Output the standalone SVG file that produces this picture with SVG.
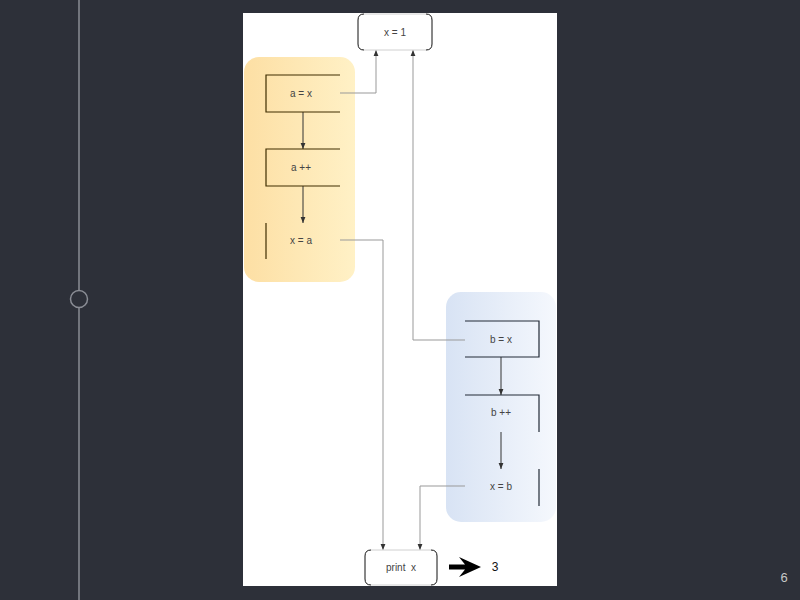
<svg xmlns="http://www.w3.org/2000/svg" width="800" height="600" viewBox="0 0 800 600">
<defs>
<linearGradient id="gOrange" x1="0" y1="0" x2="1" y2="0">
<stop offset="0" stop-color="#fddfa4"/>
<stop offset="1" stop-color="#fff1c6"/>
</linearGradient>
<linearGradient id="gBlue" x1="0" y1="0" x2="1" y2="0">
<stop offset="0" stop-color="#d8e3f4"/>
<stop offset="1" stop-color="#f5f8fd"/>
</linearGradient>
<marker id="ah" viewBox="0 0 10 10" refX="10" refY="5" markerWidth="6" markerHeight="6" orient="auto" markerUnits="userSpaceOnUse">
<path d="M0,1 L10,5 L0,9 Z" fill="#333"/>
</marker>
</defs>
<style>
text{font-family:"Liberation Sans",Arial,sans-serif;font-size:10px;fill:#444;text-anchor:middle;dominant-baseline:central}
.edge{fill:none;stroke:#999;stroke-width:1}
.inner{fill:none;stroke:#333;stroke-width:1}
.ob{fill:none;stroke:#3f2d00;stroke-width:1.2}
.bb{fill:none;stroke:#222a36;stroke-width:1.2}
.term{fill:none;stroke:#111;stroke-width:1}
.termfaint{fill:none;stroke:#d0d0d0;stroke-width:1}
</style>
<rect x="0" y="0" width="800" height="600" fill="#2d3039"/>
<line x1="79" y1="0" x2="79" y2="600" stroke="#8a8d95" stroke-width="1.5"/>
<circle cx="79" cy="299" r="8.5" fill="#2d3039" stroke="#8a8d95" stroke-width="1.5"/>
<text x="784" y="577" style="fill:#c8c8c8;font-size:13px">6</text>
<rect x="243" y="13" width="314" height="573" fill="#ffffff"/>

<g id="group-a">
<rect x="244" y="57" width="111" height="225" rx="15" fill="url(#gOrange)"/>
</g>
<g id="group-b">
<rect x="446" y="292" width="110" height="230" rx="15" fill="url(#gBlue)"/>
</g>

<g id="connectors">
<path class="edge" d="M340,93 H376 V50" marker-end="url(#ah)"/>
<path class="edge" d="M340,240 H383 V550" marker-end="url(#ah)"/>
<path class="edge" d="M465,340 H413 V50" marker-end="url(#ah)"/>
<path class="edge" d="M465,486 H420 V550" marker-end="url(#ah)"/>
<path class="inner" d="M303,112 V149" marker-end="url(#ah)"/>
<path class="inner" d="M303,186 V223" marker-end="url(#ah)"/>
<path class="inner" d="M501,357 V395" marker-end="url(#ah)"/>
<path class="inner" d="M501,432 V469" marker-end="url(#ah)"/>
</g>

<g id="node-x1">
<path class="termfaint" d="M364,14 H426 M364,50 H426"/>
<path class="term" d="M364,14 Q358,14 358,20 V44 Q358,50 364,50 M426,14 Q432,14 432,20 V44 Q432,50 426,50"/>
<text x="395" y="32">x = 1</text>
</g>

<g id="node-ax">
<path class="ob" d="M340,75 H266 V112 H340"/>
<text x="301" y="93">a = x</text>
</g>
<g id="node-app">
<path class="ob" d="M340,149 H266 V186 H340"/>
<text x="301" y="167">a ++</text>
</g>
<g id="node-xa">
<path class="ob" d="M266,223 V259"/>
<text x="301" y="240">x = a</text>
</g>

<g id="node-bx">
<path class="bb" d="M465,321 H539 V357 H465"/>
<text x="501" y="339">b = x</text>
</g>
<g id="node-bpp">
<path class="bb" d="M465,395 H539 V432"/>
<text x="501" y="412">b ++</text>
</g>
<g id="node-xb">
<path class="bb" d="M539,469 V506"/>
<text x="501" y="486">x = b</text>
</g>

<g id="node-print">
<path class="termfaint" d="M371,550 H431 M371,585 H431"/>
<path class="term" d="M371,550 Q365,550 365,556 V579 Q365,585 371,585 M431,550 Q437,550 437,556 V579 Q437,585 431,585"/>
<text x="401" y="567" xml:space="preserve">print  x</text>
</g>

<g id="result">
<path d="M449,564.5 H465 L459,557 L481,567 L459,577 L465,569.5 H449 Z" fill="#000"/>
<text x="495" y="567" style="font-size:12px;fill:#111">3</text>
</g>
</svg>
